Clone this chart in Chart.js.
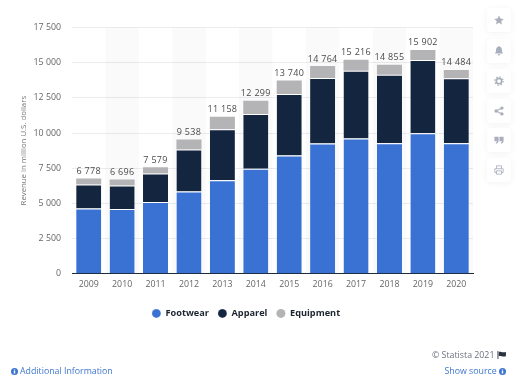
<!DOCTYPE html>
<html><head><meta charset="utf-8">
<style>
html,body{margin:0;padding:0;background:#fff;width:520px;height:385px;overflow:hidden;font-family:"Open Sans",sans-serif}
#wrap{position:relative;width:520px;height:385px;filter:blur(.35px)}
canvas{position:absolute;left:0;top:0}
.btn{position:absolute;left:486.500px;width:24px;height:24px;background:#fff;border-radius:4px;box-shadow:0 1px 6px rgba(60,70,90,.07);display:flex;align-items:center;justify-content:center}
.t{position:absolute;white-space:nowrap;font-size:8.800px;line-height:12px}
.link{color:#3f76cf}
</style></head><body>
<div id="wrap">
<canvas id="c" width="520" height="385"></canvas>
<div class="btn" style="top:8px"><svg width="10" height="10" viewBox="0 0 24 24"><path fill="#a9afbb" d="M12 1l3.400 7.400 8 .9-6 5.400 1.700 8L12 18.700 4.900 22.700l1.700-8-6-5.400 8-.9z"/></svg></div>
<div class="btn" style="top:38.500px"><svg width="10" height="11" viewBox="0 0 24 24"><path fill="#a9afbb" d="M12 1a2 2 0 0 1 2 2c4 1 5 4 5 8 0 4 1 6 3 8H2c2-2 3-4 3-8 0-4 1-7 5-8a2 2 0 0 1 2-2zM9 21h6a3 3 0 0 1-6 0z"/></svg></div>
<div class="btn" style="top:68.500px"><svg width="10" height="10" viewBox="0 0 24 24"><circle cx="12" cy="12" r="6.500" fill="none" stroke="#a9afbb" stroke-width="4"/><circle cx="12" cy="12" r="10" fill="none" stroke="#a9afbb" stroke-width="3" stroke-dasharray="3.500 4.350"/></svg></div>
<div class="btn" style="top:98.500px"><svg width="10" height="10" viewBox="0 0 24 24"><g fill="#a9afbb"><circle cx="5" cy="12" r="4"/><circle cx="19" cy="5" r="4"/><circle cx="19" cy="19" r="4"/></g><path d="M5 12L19 5M5 12l14 7" stroke="#a9afbb" stroke-width="2.500"/></svg></div>
<div class="btn" style="top:128px"><svg width="10" height="10" viewBox="0 0 24 24"><path fill="#a9afbb" d="M1 4h10v9c0 4-2 7-6 8l-1-2c2-1 3-2 3-4H1zM13 4h10v9c0 4-2 7-6 8l-1-2c2-1 3-2 3-4h-6z"/></svg></div>
<div class="btn" style="top:158px"><svg width="10" height="10" viewBox="0 0 24 24"><g fill="none" stroke="#a9afbb" stroke-width="2"><path d="M6 9V2h12v7M6 18H2V9h20v9h-4"/><path d="M6 14h12v8H6z"/></g></svg></div>
<div class="t" style="left:432px;top:348.500px;color:#6b7280">© Statista 2021</div>
<svg style="position:absolute;left:497px;top:351px" width="9" height="8" viewBox="0 0 10 9"><path fill="#2b3340" d="M.500 0h1v9h-1zM2 1c2-1 3 1 8 0v5c-4 1-6-1-8 0z"/></svg>
<div class="t link" style="left:20px;top:365px">Additional Information</div>
<div class="t link" style="left:444.500px;top:365px">Show source</div>
<svg style="position:absolute;left:11px;top:368px" width="7" height="7" viewBox="0 0 10 10"><circle cx="5" cy="5" r="5" fill="#3f76cf"/><path d="M4 2h2v1.500H4zM4 4.300h2V8H4z" fill="#fff"/></svg>
<svg style="position:absolute;left:499px;top:368px" width="7" height="7" viewBox="0 0 10 10"><circle cx="5" cy="5" r="5" fill="#3f76cf"/><path d="M4 2h2v1.500H4zM4 4.300h2V8H4z" fill="#fff"/></svg>
</div>
<script src="https://cdn.jsdelivr.net/npm/chart.js@4/dist/chart.umd.min.js"></script>
<script>
const categories = ['2009','2010','2011','2012','2013','2014','2015','2016','2017','2018','2019','2020'];
const footwear  = [4640,4610,5100,5850,6650,7460,8410,9250,9610,9270,9980,9270];
const apparel   = [1705,1660,2030,2990,3620,3900,4370,4670,4810,4870,5210,4630];
const equipment = [433,426,449,698,888,939,960,844,796,715,712,584];
const totals    = [6778,6696,7579,9538,11158,12299,13740,14764,15216,14855,15902,14484];
const yTicks    = [0,2500,5000,7500,10000,12500,15000,17500];
const fmt = v => String(v).replace(/\B(?=(\d{3})+$)/g,' ');
const FONT = '"Open Sans", sans-serif';

const bands = {
  id:'bands',
  beforeDatasetsDraw(ch){
    const {ctx,chartArea:a,scales:{x}} = ch;
    const w = x.getPixelForValue(1)-x.getPixelForValue(0);
    ctx.save(); ctx.fillStyle='rgba(120,120,140,.035)';
    categories.forEach((c,i)=>{ if(i%2===1) ctx.fillRect(x.getPixelForValue(i)-w/2,a.top,w,a.bottom-a.top); });
    ctx.restore();
  }
};
const totalsLabels = {
  id:'totalsLabels',
  afterDatasetsDraw(ch){
    const {ctx,scales:{x,y}} = ch;
    ctx.save();
    ctx.font='9px '+FONT; ctx.fillStyle='#4a4a4a';
    ctx.letterSpacing='.3px';
    ctx.textAlign='center'; ctx.textBaseline='alphabetic';
    totals.forEach((t,i)=>ctx.fillText(fmt(t),x.getPixelForValue(i),y.getPixelForValue(t)-4.5));
    ctx.restore();
  }
};
const common = {stack:'s',barPercentage:.75,categoryPercentage:1,borderSkipped:false};
new Chart(document.getElementById('c'),{
  type:'bar',
  data:{labels:categories,datasets:[
    {...common,label:'Footwear',data:footwear,backgroundColor:'#3a72d3',borderColor:'#fff',borderWidth:{top:1,left:0,right:0,bottom:0}},
    {...common,label:'Apparel',data:apparel,backgroundColor:'#14263f',borderColor:'#fff',borderWidth:{top:1,left:0,right:0,bottom:0}},
    {...common,label:'Equipment',data:equipment,backgroundColor:'#b4b4b6',borderWidth:0}
  ]},
  plugins:[bands,totalsLabels],
  options:{
    responsive:false,animation:false,
    layout:{padding:{left:19,right:47,top:27.5,bottom:57}},
    plugins:{
      tooltip:{enabled:false},
      legend:{position:'bottom',labels:{usePointStyle:true,pointStyle:'circle',pointStyleWidth:9,boxHeight:6.36,padding:9,color:'#1c2430',font:{family:FONT,size:9.2,weight:'700'}}}
    },
    scales:{
      x:{stacked:true,grid:{display:false,drawTicks:false},border:{display:true,color:'#1d2b3c',width:1},
         ticks:{color:'#666',padding:5,maxRotation:0,autoSkip:false,font:{family:FONT,size:8.800}},
         afterFit(s){s.height=26;}},
      y:{stacked:true,min:0,max:17500,
         afterBuildTicks(s){s.ticks=yTicks.map(v=>({value:v}));},
         afterFit(s){s.width=53;},
         grid:{color:'#ececee',drawTicks:false},border:{display:false},
         title:{display:true,text:'Revenue in million U.S. dollars',color:'#777',padding:{top:0,bottom:0},font:{family:FONT,size:7.800}},
         ticks:{color:'#666',padding:11,callback:v=>fmt(v),font:{family:FONT,size:8.800}}}
    }
  }
});
</script>
</body></html>
